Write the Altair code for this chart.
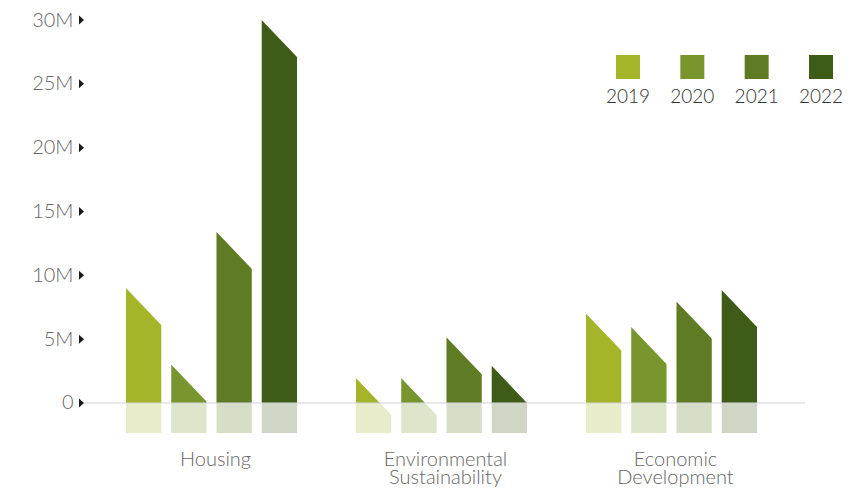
import altair as alt
import pandas as pd

# ---- data (values in millions) ----
categories = ["Housing", "Environmental Sustainability", "Economic Development"]
years = ["2019", "2020", "2021", "2022"]
housing = [9.0, 3.0, 13.4, 30.0]
environmental = [1.95, 1.95, 5.15, 2.9]
economic = [7.0, 5.95, 7.95, 8.85]
tick_values = [0, 5, 10, 15, 20, 25, 30]
colors = ["#a4b52a", "#78962d", "#5f7c24", "#3e5c17"]

rows = []
for cat, vals in zip(categories, [housing, environmental, economic]):
    for yr, v in zip(years, vals):
        rows.append({"category": cat, "year": yr, "value": v})
df = pd.DataFrame(rows)

# ---- styling / layout constants ----
REFLECT = -2.35          # depth of the pale "reflection" below zero
FONT = "Lato"
W, H = 715, 413
RULE_END = 721
BAR_PX = 35.29           # bar width in px (from band scales)
CUT_SHAPE = "M -1.1 -0.105 L -1.1 -0.7 L 1.12 -0.7 L 1.12 2.22 Z"   # white corner cut
TRI_SHAPE = "M -0.5 -0.9 L 0.5 0 L -0.5 0.9 Z"

y_scale = alt.Scale(domain=[REFLECT, 30], nice=False, zero=False)
y_axis = alt.Axis(
    title=None, values=tick_values, grid=False, domain=False, ticks=False,
    labelExpr="datum.value == 0 ? '0' : datum.value + 'M'",
    labelFont=FONT, labelFontSize=20, labelFontWeight=300, labelColor="#666666",
    labelPadding=11,
)
color_scale = alt.Scale(domain=years, range=colors)
color_enc = alt.Color("year:N", scale=color_scale, legend=None)

x_enc = alt.X(
    "category:N", sort=categories,
    scale=alt.Scale(paddingInner=0.2565, paddingOuter=0.1826),
    axis=alt.Axis(
        title=None, labelExpr="split(datum.label, ' ')", domain=False, ticks=False,
        labelAngle=0, labelPadding=32, labelBaseline="alphabetic", labelOffset=4,
        labelFont=FONT, labelFontSize=20, labelFontWeight=300, labelColor="#666666",
        labelLineHeight=18,
    ),
)
xoff_enc = alt.XOffset("year:N", sort=years, scale=alt.Scale(paddingInner=0.22, paddingOuter=0))

base = alt.Chart(df)

reflection = base.transform_calculate(lo=str(REFLECT), zero="0").mark_bar(opacity=0.25).encode(
    x=x_enc, xOffset=xoff_enc,
    y=alt.Y("lo:Q", scale=y_scale, axis=y_axis),
    y2="zero:Q",
    color=color_enc,
)

bars = base.transform_calculate(zero="0").mark_bar().encode(
    x=x_enc, xOffset=xoff_enc,
    y=alt.Y("value:Q", scale=y_scale, axis=y_axis),
    y2="zero:Q",
    color=color_enc,
)

cuts = base.mark_point(shape=CUT_SHAPE, filled=True, color="white", opacity=1,
                       size=BAR_PX ** 2, strokeWidth=0).encode(
    x=x_enc, xOffset=xoff_enc,
    y=alt.Y("value:Q", scale=y_scale, axis=y_axis),
)

main = alt.layer(reflection, bars, cuts)

zero_rule = alt.Chart(pd.DataFrame({"z": [0]})).mark_rule(color="#d3d3db", strokeWidth=1).encode(
    x=alt.value(0), x2=alt.value(RULE_END),
    y=alt.Y("z:Q", scale=y_scale, axis=y_axis),
)

tick_marks = alt.Chart(pd.DataFrame({"tick": tick_values})).mark_point(
    shape=TRI_SHAPE, filled=True, color="#1a1a1a", opacity=1, size=100, strokeWidth=0
).encode(
    x=alt.value(-2.5),
    y=alt.Y("tick:Q", scale=y_scale, axis=y_axis),
)

legend_x = alt.X("year:N", sort=years, scale=alt.Scale(range=[544, 737], padding=0), axis=None)
legend_df = pd.DataFrame({"year": years})
legend_sq = alt.Chart(legend_df).mark_square(size=576, opacity=1).encode(
    x=legend_x, y=alt.value(47), color=color_enc,
)
legend_txt = alt.Chart(legend_df).mark_text(
    font=FONT, fontSize=19, fontWeight=300, color="#333333", baseline="alphabetic"
).encode(
    x=legend_x, y=alt.value(83), text="year:N",
)

chart = alt.layer(main, zero_rule, tick_marks, legend_sq, legend_txt).resolve_scale(
    x="independent"
).properties(
    width=W, height=H,
    autosize=alt.AutoSizeParams(type="none"),
    padding={"left": 76, "top": 12, "right": 44, "bottom": 55},
).configure_view(stroke=None)

chart.save("out.html", embed_options={"renderer": "svg", "actions": False})
